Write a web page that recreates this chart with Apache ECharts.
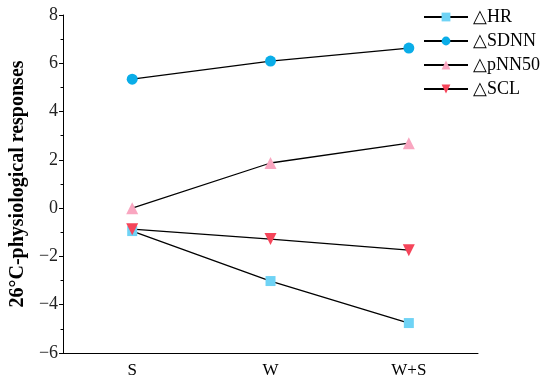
<!DOCTYPE html>
<html><head><meta charset="utf-8">
<script src="https://cdn.jsdelivr.net/npm/echarts@6/dist/echarts.min.js"></script>
<style>html,body{margin:0;padding:0;background:#fff}#c{width:550px;height:385px}</style>
</head><body><div id="c"></div>
<script>
const categories = ['S', 'W', 'W+S'];
const hr = [-0.95, -3.02, -4.76];
const sdnn = [5.34, 6.09, 6.63];
const pnn50 = [0.0, 1.87, 2.69];
const scl = [-0.87, -1.28, -1.74];
const seriesNames = ['\u25B3HR', '\u25B3SDNN', '\u25B3pNN50', '\u25B3SCL'];
const yTicks = [-6, -4, -2, 0, 2, 4, 6, 8];

const font = 'Liberation Serif';
function mk(name, data, symbol, color, size, rotate) {
  return {
    name: name, type: 'line', data: data, symbol: symbol, symbolSize: size,
    symbolRotate: rotate || 0,
    lineStyle: {color: '#000', width: 1.3},
    itemStyle: {color: color},
    emphasis: {disabled: true}
  };
}
const chart = echarts.init(document.getElementById('c'));
chart.setOption({
  animation: false,
  textStyle: {fontFamily: font},
  grid: {left: 60, right: 72, top: 15, bottom: 32},
  legend: {
    right: 5, top: 3, orient: 'vertical', itemGap: 6, itemWidth: 44, itemHeight: 11,
    textStyle: {fontFamily: font, fontSize: 18, color: '#000'},
    data: seriesNames
  },
  xAxis: {
    type: 'category', data: categories, boundaryGap: true,
    axisLine: {onZero: false, lineStyle: {color: '#000', width: 1}},
    axisTick: {alignWithLabel: true, length: 4, lineStyle: {color: '#000'}},
    axisLabel: {fontFamily: font, fontSize: 17, color: '#000', margin: 9}
  },
  yAxis: {
    type: 'value', min: yTicks[0], max: yTicks[yTicks.length - 1], interval: 2,
    name: '26\u00B0C-physiological responses', nameLocation: 'middle', nameGap: 30,
    nameTextStyle: {fontFamily: font, fontSize: 20, fontWeight: 'bold', color: '#000'},
    axisLine: {show: true, lineStyle: {color: '#000', width: 1}},
    axisTick: {show: true, length: 4, lineStyle: {color: '#000'}},
    minorTick: {show: true, splitNumber: 2, length: 2.5, lineStyle: {color: '#000'}},
    splitLine: {show: false},
    axisLabel: {fontFamily: font, fontSize: 18, color: '#222', margin: 5,
      formatter: v => (v < 0 ? '\u2212' + Math.abs(v) : String(v))}
  },
  series: [
    mk(seriesNames[0], hr, 'rect', '#6FD3F5', 10),
    mk(seriesNames[1], sdnn, 'circle', '#0AADE8', 11),
    mk(seriesNames[2], pnn50, 'triangle', '#F9A6C0', 12),
    mk(seriesNames[3], scl, 'triangle', '#F5455A', 12, 180)
  ]
});
</script></body></html>
